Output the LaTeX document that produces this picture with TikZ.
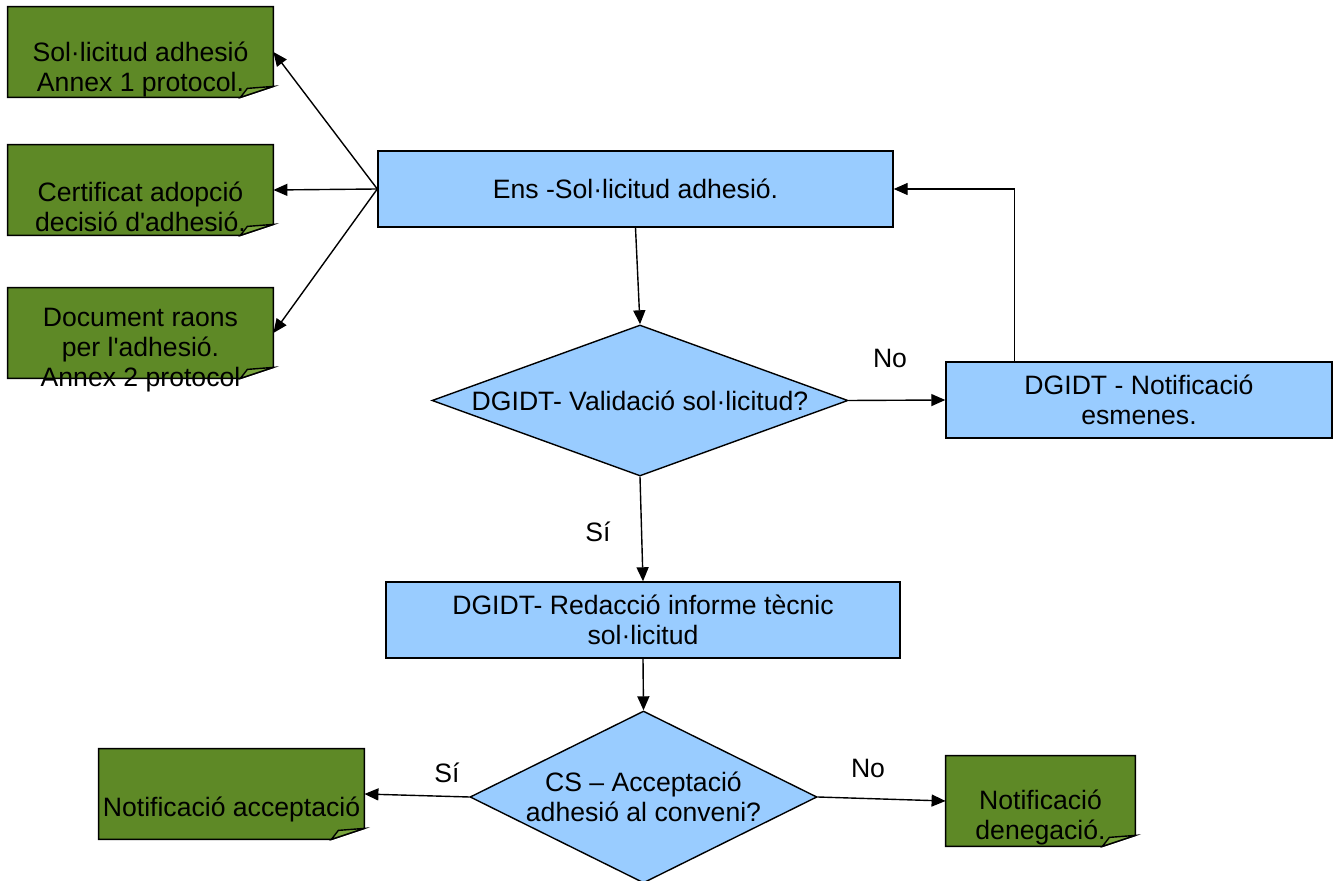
\documentclass[tikz,border=0pt]{standalone}
\usepackage{fontspec}
\setmainfont{Liberation Sans}[Ligatures=TeXOff]
\usetikzlibrary{shapes.geometric,arrows.meta}

\definecolor{docgreen}{RGB}{94,137,38}
\definecolor{flapgreen}{RGB}{122,165,62}
\definecolor{taskblue}{RGB}{153,204,255}

\tikzstyle{doc}=[minimum width=132.5pt,minimum height=45pt,inner sep=0pt]
\tikzstyle{txt}=[align=center,inner sep=0pt]
\tikzstyle{task}=[rectangle,draw,fill=taskblue,line width=0.7pt,align=center,minimum height=38pt,inner sep=0pt]
\tikzstyle{decision}=[diamond,draw,fill=taskblue,line width=0.7pt,inner sep=0pt]
\tikzstyle{flow}=[draw,line width=0.7pt,-{Triangle[length=7pt,width=6pt]}]

\begin{document}
\begin{tikzpicture}[x=0.5pt,y=-0.5pt,font=\fontsize{13.3}{15}\selectfont]
	\useasboundingbox (0,0) rectangle (1335,881);
	% documents (shape drawn below)
	\node[doc] (sol) at (140.5,52) {};
	\node[doc] (cert) at (140.5,190) {};
	\node[doc] (raons) at (140.5,333) {};
	\node[doc] (acc) at (231.5,794) {};
	\node[doc,minimum width=94.5pt] (den) at (1040.5,801) {};
	% folded sheets
	\foreach \d in {sol,cert,raons,acc,den}{
		\draw[fill=docgreen,line width=0.7pt] (\d.north west) -- (\d.north east) -- ([yshift=5.5pt]\d.south east) -- ([xshift=-16.5pt]\d.south east) -- (\d.south west) -- cycle;
		\draw[fill=flapgreen,line width=0.7pt] ([xshift=-16.5pt]\d.south east) -- ([xshift=-13pt,yshift=4.5pt]\d.south east) -- ([yshift=5.5pt]\d.south east) -- cycle;
	}
	\node[txt] (solt) at ([yshift=-8.5pt]sol.center) {Sol·licitud adhesió\\Annex 1 protocol.};
	\node[txt] (certt) at ([yshift=-8.5pt]cert.center) {Certificat adopció\\decisió d'adhesió.};
	\node[txt] (raonst) at ([yshift=-8.5pt]raons.center) {Document raons\\per l'adhesió.\\Annex 2 protocol};
	\node[txt] (acct) at ([yshift=-7.5pt]acc.center) {Notificació acceptació};
	\node[txt] (dent) at ([yshift=-8pt]den.center) {Notificació\\denegació.};
	% steps
	\node[task,minimum width=257.5pt] (ens) at (635.5,189) {Ens -Sol·licitud adhesió.};
	\node[task,minimum width=193pt] (note) at (1139,400) {DGIDT - Notificació\\esmenes.};
	\node[task,minimum width=257pt] (red) at (643,620) {DGIDT- Redacció informe tècnic\\sol·licitud};
	\node[decision,minimum width=208pt,minimum height=75.5pt] (val) at (640,400.5) {};
	\node[txt] (valt) at (val) {DGIDT- Validació sol·licitud?};
	\node[decision,minimum width=173.5pt,minimum height=86pt] (conv) at (643.5,797) {};
	\node[txt] (convt) at (conv) {CS – Acceptació\\adhesió al conveni?};
	% connectors
	\foreach \dest in {sol,cert,raons}
		\path[flow] (ens.west) -- (\dest.east);
	\path[flow] (ens.south) -- (val.north);
	\path[flow] (val.east) -- (note.west);
	\path[flow] ([xshift=34.5pt]note.north west) |- (ens.east);
	\path[flow] (val.south) -- (red.north);
	\path[flow] (red.south) -- (conv.north);
	\path[flow] (conv.west) -- (acc.east);
	\path[flow] (conv.east) -- (den.west);
	% answers
	\node (no1) at (890,358) {No};
	\node (si1) at (598,532) {Sí};
	\node (si2) at (447,773) {Sí};
	\node (no2) at (868,768) {No};
\end{tikzpicture}
\end{document}
